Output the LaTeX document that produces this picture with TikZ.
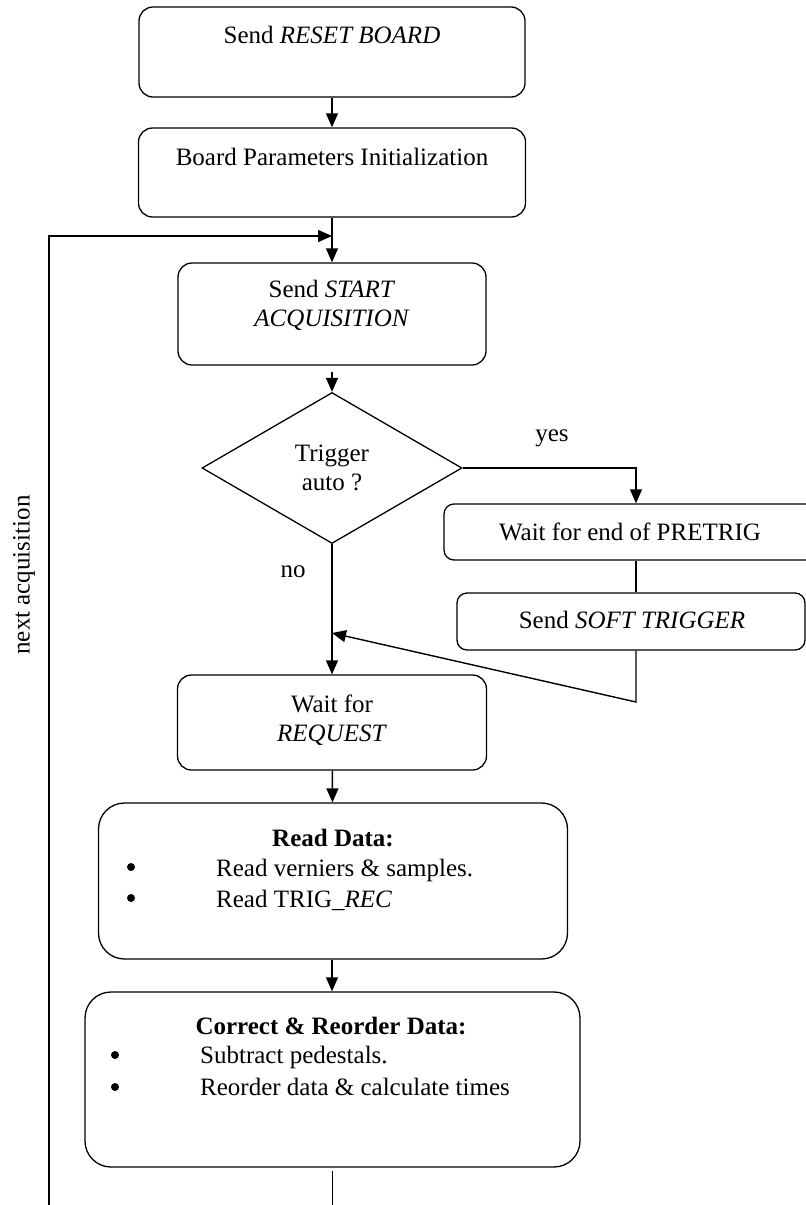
\documentclass[tikz,border=0pt]{standalone}
\usepackage{fontspec}
\setmainfont{Liberation Serif}
\usetikzlibrary{shapes.geometric,arrows.meta,positioning}

\tikzset{
  box/.style={draw, line width=1.3pt, rounded corners=14pt, inner sep=0pt},
  bigbox/.style={box, rounded corners=26pt},
  flatbox/.style={box, rounded corners=10pt},
  txt/.style={align=center, inner sep=0pt},
  dot/.style={circle, fill, inner sep=0pt, minimum size=8pt},
  line/.style={line width=1.4pt},
  >={Triangle[length=14pt,width=12pt]},
}

\begin{document}
\begin{tikzpicture}[x=1pt, y=-1pt, font=\fontsize{25}{29}\selectfont]
\useasboundingbox (0,0) rectangle (806,1205);
% main column
\node[box, minimum width=386pt, minimum height=90pt] (reset) at (332,52) {};
\node[txt, anchor=base] (treset) at (332,43) {Send \textit{RESET BOARD}};
\node[box, minimum width=387pt, minimum height=89pt] (init) at (332,172.5) {};
\node[txt, anchor=base] (tinit) at (332,165) {Board Parameters Initialization};
\node[box, minimum width=308pt, minimum height=102pt] (start) at (332,314) {};
\node[txt] (tstart) at (332,305) {Send \textit{START}\\\textit{ACQUISITION}};
\node[draw, line width=1.3pt, diamond, minimum width=260pt, minimum height=151pt,
      inner sep=0pt, align=center] (dec) at (332,468) {Trigger\\auto ?};
\node[box, minimum width=309pt, minimum height=95pt] (request) at (332,722.5) {};
\node[txt] (trequest) at (332,720) {Wait for\\\textit{REQUEST}};
% read data
\node[bigbox, minimum width=469pt, minimum height=156pt] (read) at (333,881) {};
\node[txt, anchor=base] (tread) at (333,846) {\textbf{Read Data:}};
\node[dot] (bra) at (131,867) {};
\node[anchor=base west, inner sep=0pt] (lra) at (216,876) {Read verniers \& samples.};
\node[dot] (brb) at (131,898) {};
\node[anchor=base west, inner sep=0pt] (lrb) at (216,907) {Read TRIG\_\textit{REC}};
% correct data
\node[bigbox, minimum width=495pt, minimum height=175pt] (corr) at (332.5,1079.5) {};
\node[txt, anchor=base] (tcorr) at (331,1034) {\textbf{Correct \& Reorder Data:}};
\node[dot] (bca) at (115,1055) {};
\node[anchor=base west, inner sep=0pt] (lca) at (200,1063) {Subtract pedestals.};
\node[dot] (bcb) at (115,1087) {};
\node[anchor=base west, inner sep=0pt] (lcb) at (200,1095) {Reorder data \& calculate times};
% soft trigger branch
\node[flatbox, minimum width=384pt, minimum height=56pt] (pretrig) at (636,532) {};
\node[txt] (tpretrig) at (630,532) {Wait for end of PRETRIG};
\node[flatbox, minimum width=348pt, minimum height=57pt] (soft) at (631,621.5) {};
\node[txt] (tsoft) at (632,620) {Send \textit{SOFT TRIGGER}};
% labels
\node[txt] (yes) at (552,438) {yes};
\node[txt] (no) at (293,572) {no};
\node[txt, rotate=90] (next) at (24,575) {next acquisition};
\coordinate (loopin) at (332,236);
\coordinate (loopbot) at (49,1205);
\coordinate (softret) at (636,702);
\coordinate (join) at (332,633);
% connectors
\draw[line,->] (reset) -- (init);
\draw[line,->] (init) -- (start);
\draw[line,->] (loopbot) |- (loopin);
\draw[line,->] ([yshift=-6pt]start.south) -- (dec);
\draw[line,->] (dec.east) -| (pretrig.north);
\draw[line] (pretrig.south) -- (pretrig.south |- soft.north);
\draw[line,->] (pretrig.south |- soft.south) -- (softret) -- (join);
\draw[line,->] (dec.south) -- (request);
\draw[line,->] (request) -- (read);
\draw[line,->] (read.south -| request.south) -- (corr.north -| request.south);
\draw[line] ([yshift=-3pt]corr.south) -- (corr.south |- loopbot);
\end{tikzpicture}
\end{document}
